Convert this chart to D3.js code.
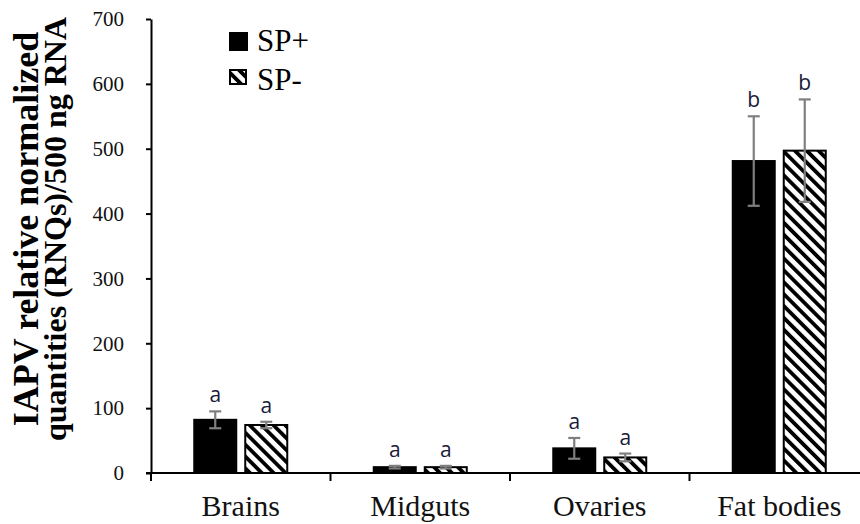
<!DOCTYPE html>
<html><head><meta charset="utf-8">
<script src="https://cdn.jsdelivr.net/npm/d3@7"></script>
<style>body{margin:0;background:#fff}svg{display:block}</style>
</head><body><svg id="c" width="860" height="524"></svg>
<script>
const categories = ["Brains", "Midguts", "Ovaries", "Fat bodies"];
const seriesNames = ["SP+", "SP-"];
const spPlus = [82, 9, 38, 481];
const spPlusErr = [13, 2, 16, 69];
const spMinus = [74, 9, 24, 497];
const spMinusErr = [5, 2, 6, 79];
const letters = [["a","a","a","b"],["a","a","a","b"]];
const yTicks = [0, 100, 200, 300, 400, 500, 600, 700];

const SERIF = "'Liberation Serif', 'Times New Roman', serif";
const svg = d3.select("#c");
const x0 = 151, x1 = 869, yTop = 19, yBot = 473;
const x = d3.scaleBand().domain(categories).range([x0, x1]).paddingInner(0).paddingOuter(0);
const y = d3.scaleLinear().domain([0, 700]).range([yBot, yTop]);
const barW = 42, gap = 9;

const defs = svg.append("defs");
const pat = defs.append("pattern").attr("id","hatch").attr("patternUnits","userSpaceOnUse")
  .attr("width",8.4).attr("height",8.4).attr("patternTransform","rotate(-45)");
pat.append("rect").attr("width",8.4).attr("height",8.4).attr("fill","#fff");
pat.append("rect").attr("x",0).attr("y",0).attr("width",3.8).attr("height",8.4).attr("fill","#000");

const series = [
  {name: seriesNames[0], vals: spPlus, errs: spPlusErr, fill: "#000", off: -(barW + gap)/2},
  {name: seriesNames[1], vals: spMinus, errs: spMinusErr, fill: "url(#hatch)", off: (barW + gap)/2}
];

series.forEach((s, si) => {
  const g = svg.append("g");
  categories.forEach((c, i) => {
    const cx = x(c) + x.bandwidth()/2 + s.off;
    g.append("rect").attr("x", cx - barW/2).attr("y", y(s.vals[i]))
      .attr("width", barW).attr("height", y(0) - y(s.vals[i]))
      .attr("fill", s.fill).attr("stroke", "#000").attr("stroke-width", 2);
  });
});
series.forEach((s, si) => {
  categories.forEach((c, i) => {
    const cx = x(c) + x.bandwidth()/2 + s.off;
    const hi = y(s.vals[i] + s.errs[i]), lo = y(s.vals[i] - s.errs[i]);
    const eg = svg.append("g").attr("stroke", "#7f7f7f").attr("stroke-width", 2.2);
    eg.append("line").attr("x1", cx).attr("x2", cx).attr("y1", hi).attr("y2", lo);
    eg.append("line").attr("x1", cx-6).attr("x2", cx+6).attr("y1", hi).attr("y2", hi);
    eg.append("line").attr("x1", cx-6).attr("x2", cx+6).attr("y1", lo).attr("y2", lo);
    svg.append("text").attr("x", cx).attr("y", hi - 9).attr("text-anchor","middle")
      .style("font-family","'Open Sans', 'Liberation Sans', sans-serif").style("font-size", "21px")
      .attr("fill", "#1a1a3a").text(letters[si][i]);
  });
});

const yAxis = svg.append("g").attr("transform", `translate(${x0},0)`)
  .call(d3.axisLeft(y).tickValues(yTicks).tickSize(5).tickPadding(22).tickSizeOuter(0));
yAxis.attr("font-family", null).attr("font-size", null);
yAxis.select(".domain").attr("stroke","#000").attr("stroke-width",2);
yAxis.selectAll(".tick line").attr("stroke","#000").attr("stroke-width",2);
yAxis.selectAll("text").style("font-family", SERIF)
  .style("font-size", "21px").attr("fill","#111");

const xAxis = svg.append("g").attr("transform", `translate(0,${yBot})`)
  .call(d3.axisBottom(x).tickSize(0).tickPadding(22));
xAxis.attr("font-family", null).attr("font-size", null);
xAxis.select(".domain").remove();
xAxis.append("line").attr("x1", x0 - 5).attr("x2", 860).attr("y1", 0).attr("y2", 0)
  .attr("stroke","#000").attr("stroke-width",2);
xAxis.selectAll(".tick text").style("font-family", SERIF)
  .style("font-size", "30px").attr("fill","#111").attr("dy","0.71em");
categories.forEach(c => {
  xAxis.append("line").attr("x1", x(c)).attr("x2", x(c)).attr("y1", 0).attr("y2", 8)
    .attr("stroke","#000").attr("stroke-width",2);
});

const yt = svg.append("text").attr("transform","translate(38,229) rotate(-90)")
  .attr("text-anchor","middle").style("font-family", SERIF)
  .style("font-weight","bold").attr("fill","#000");
yt.append("tspan").attr("x",0).attr("y",0).style("font-size","36px").text("IAPV relative normalized");
yt.append("tspan").attr("x",0).attr("y",28).style("font-size","32px").text("quantities (RNQs)/500 ng RNA");

const lg = svg.append("g");
lg.append("rect").attr("x",229).attr("y",32).attr("width",19).attr("height",19).attr("fill","#000");
lg.append("rect").attr("x",230).attr("y",70).attr("width",16).attr("height",14)
  .attr("fill","url(#hatch)").attr("stroke","#000").attr("stroke-width",2);
lg.append("text").attr("x",257).attr("y",51).style("font-family", SERIF)
  .style("font-size","31px").attr("fill","#000").text(seriesNames[0]);
lg.append("text").attr("x",257).attr("y",90).style("font-family", SERIF)
  .style("font-size","31px").attr("fill","#000").text(seriesNames[1]);
</script></body></html>
